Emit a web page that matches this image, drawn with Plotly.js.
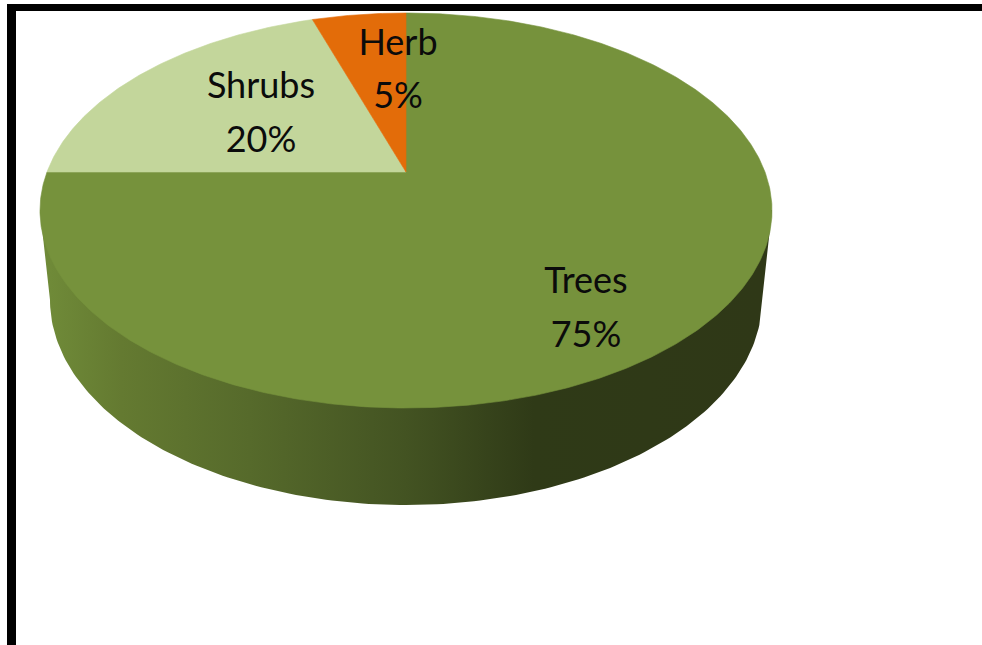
<!DOCTYPE html>
<html>
<head>
<meta charset="utf-8">
<script src="https://cdn.plot.ly/plotly-3.0.1.min.js"></script>
<style>html,body{margin:0;padding:0;background:#fff}#chart{width:982px;height:645px}</style>
</head>
<body>
<div id="chart"></div>
<script>
// Data
var categories = ["Trees", "Shrubs", "Herb"];
var shares = [75, 20, 5];
var sliceColors = ["#76923c", "#c3d69b", "#e36c09"];

// Page-pixel projection of the tilted disc (perspective: the hub sits above the ellipse centre)
var hubX = 406, hubY = 172, radX = 359, topY = 13, frontY = 408;
var persp = (2 * hubY - topY - frontY) / (topY - frontY);
var coefV = topY * persp + topY - hubY;

function project(angleDeg, r) {
  var t = angleDeg * Math.PI / 180;
  var u = r * Math.sin(t), v = r * Math.cos(t);
  var w = persp * v + 1;
  return [hubX + radX * u / w, (coefV * v + hubY) / w];
}
function wedge(a0, a1) {
  var xs = [hubX], ys = [hubY];
  for (var a = a0; a < a1; a += 0.5) { var p = project(a, 1); xs.push(p[0]); ys.push(p[1]); }
  var e = project(a1, 1); xs.push(e[0]); ys.push(e[1]);
  xs.push(hubX); ys.push(hubY);
  return {x: xs, y: ys};
}

// Side wall: lower rim under the top face
var rimCx = 406, rimCy = 300, rimRx = 356, rimRy = 205;
var sideX = [772], sideY = [210];
for (var d = 0; d <= 180; d += 1) {
  var r = d * Math.PI / 180;
  sideX.push(rimCx + rimRx * Math.cos(r));
  sideY.push(rimCy + rimRy * Math.sin(r));
}
sideX.push(40); sideY.push(210); sideX.push(772); sideY.push(210);

var traces = [{
  type: "scatter", mode: "lines", x: sideX, y: sideY, fill: "toself",
  line: {width: 0, color: "rgba(0,0,0,0)"},
  fillgradient: {
    type: "horizontal", start: 50, stop: 762,
    colorscale: [[0, "#6f8a38"], [0.1, "#647a31"], [0.28, "#566a2b"], [0.5, "#435322"], [0.68, "#2f3a17"], [1, "#2f3817"]]
  },
  hoverinfo: "skip", showlegend: false
}];

var start = 0;
shares.forEach(function (s, i) {
  var span = s * 3.6;
  var w = wedge(start, start + span);
  traces.push({
    type: "scatter", mode: "lines", x: w.x, y: w.y, fill: "toself", fillcolor: sliceColors[i],
    line: {width: 0.6, color: sliceColors[i]}, name: categories[i], hoverinfo: "name", showlegend: false
  });
  start += span;
});

// Labels: category line and percent line
var labelX = [586, 261, 398];
var nameY = [284, 89, 46];
var pctY = [338, 143, 99];
traces.push({
  type: "scatter", mode: "text",
  x: labelX.concat(labelX), y: nameY.concat(pctY),
  text: categories.concat(shares.map(function (s) { return s + "%"; })),
  textposition: "middle center",
  textfont: {family: "Lato, 'Noto Sans', sans-serif", size: 36, color: "#0b0b0b"},
  hoverinfo: "skip", showlegend: false, cliponaxis: false
});

var layout = {
  width: 982, height: 645,
  margin: {l: 0, r: 0, t: 0, b: 0},
  paper_bgcolor: "#ffffff", plot_bgcolor: "#ffffff",
  xaxis: {range: [0, 982], visible: false, fixedrange: true},
  yaxis: {range: [645, 0], visible: false, fixedrange: true},
  showlegend: false,
  shapes: [
    {type: "rect", x0: 7, x1: 982, y0: 4, y1: 11, fillcolor: "#000", line: {width: 0}},
    {type: "rect", x0: 7, x1: 16, y0: 4, y1: 645, fillcolor: "#000", line: {width: 0}}
  ]
};
Plotly.newPlot("chart", traces, layout, {displayModeBar: false, staticPlot: true});
</script>
</body>
</html>
